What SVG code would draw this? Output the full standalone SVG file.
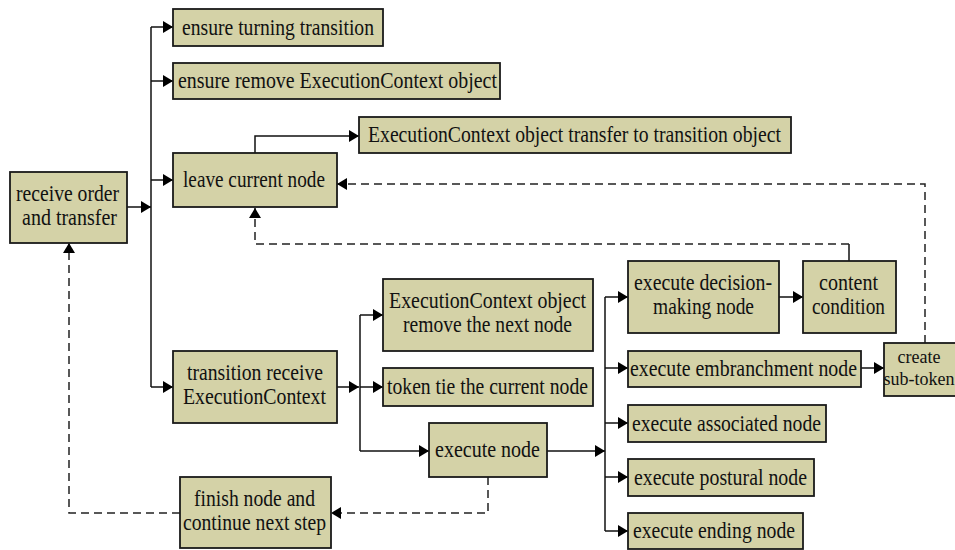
<svg xmlns="http://www.w3.org/2000/svg" width="955" height="550" viewBox="0 0 955 550">
<style>
.box{fill:#d4d2a7;stroke:#1a1a1a;stroke-width:1.8}
.t{font-family:"Liberation Serif","Times New Roman",serif;font-size:23px;fill:#111;text-anchor:middle}
.s{font-size:18px}
.ln{fill:none;stroke:#111;stroke-width:1.5}
.ds{fill:none;stroke:#222;stroke-width:1.5;stroke-dasharray:8,5}
</style>
<defs>
<marker id="ah" viewBox="0 0 10 12" refX="10" refY="6" markerWidth="10" markerHeight="12" markerUnits="userSpaceOnUse" orient="auto">
<path d="M0,0 L10,6 L0,12 Z" fill="#000"/>
</marker>
</defs>
<g id="connectors">
<path class="ln" d="M127,207 H151" marker-end="url(#ah)"/>
<path class="ln" d="M151,27 V387"/>
<path class="ln" d="M151,27 H173" marker-end="url(#ah)"/>
<path class="ln" d="M151,81 H173" marker-end="url(#ah)"/>
<path class="ln" d="M151,180 H173" marker-end="url(#ah)"/>
<path class="ln" d="M151,387 H173" marker-end="url(#ah)"/>
<path class="ln" d="M255,153 V136 H359" marker-end="url(#ah)"/>
<path class="ln" d="M337,387 H359" marker-end="url(#ah)"/>
<path class="ln" d="M360,315 V451"/>
<path class="ln" d="M360,315 H383" marker-end="url(#ah)"/>
<path class="ln" d="M360,387 H383" marker-end="url(#ah)"/>
<path class="ln" d="M360,451 H429" marker-end="url(#ah)"/>
<path class="ln" d="M547,451 H605" marker-end="url(#ah)"/>
<path class="ln" d="M605,297 V531"/>
<path class="ln" d="M605,297 H628" marker-end="url(#ah)"/>
<path class="ln" d="M605,368 H628" marker-end="url(#ah)"/>
<path class="ln" d="M605,423 H628" marker-end="url(#ah)"/>
<path class="ln" d="M605,477 H628" marker-end="url(#ah)"/>
<path class="ln" d="M605,531 H628" marker-end="url(#ah)"/>
<path class="ln" d="M779,297 H803" marker-end="url(#ah)"/>
<path class="ln" d="M861,368 H884" marker-end="url(#ah)"/>
<path class="ln" d="M849,261 V244"/>
<path class="ds" d="M849,244 H255 V208" marker-end="url(#ah)"/>
<path class="ds" d="M925,343 V184 H337" marker-end="url(#ah)"/>
<path class="ds" d="M488,477 V513 H331" marker-end="url(#ah)"/>
<path class="ds" d="M180,513 H69 V243" marker-end="url(#ah)"/>
</g>
<g id="n-ensure-turning">
<rect class="box" x="173" y="9" width="210" height="37"/>
<text class="t" x="278" y="34.5" textLength="192" lengthAdjust="spacingAndGlyphs">ensure turning transition</text>
</g>
<g id="n-ensure-remove">
<rect class="box" x="173" y="63" width="327" height="36"/>
<text class="t" x="337.5" y="88" textLength="319" lengthAdjust="spacingAndGlyphs">ensure remove ExecutionContext object</text>
</g>
<g id="n-transfer">
<rect class="box" x="359" y="117" width="432" height="36"/>
<text class="t" x="574.5" y="142" textLength="413" lengthAdjust="spacingAndGlyphs">ExecutionContext object transfer to transition object</text>
</g>
<g id="n-leave">
<rect class="box" x="173" y="153" width="164" height="54"/>
<text class="t" x="254" y="187" textLength="142" lengthAdjust="spacingAndGlyphs">leave current node</text>
</g>
<g id="n-receive">
<rect class="box" x="10" y="172" width="117" height="71"/>
<text class="t" x="67.5" y="200.5" textLength="103" lengthAdjust="spacingAndGlyphs">receive order</text>
<text class="t" x="69.5" y="224.5" textLength="95" lengthAdjust="spacingAndGlyphs">and transfer</text>
</g>
<g id="n-transition-receive">
<rect class="box" x="173" y="351" width="164" height="72"/>
<text class="t" x="255" y="380" textLength="136" lengthAdjust="spacingAndGlyphs">transition receive</text>
<text class="t" x="254.5" y="404" textLength="143" lengthAdjust="spacingAndGlyphs">ExecutionContext</text>
</g>
<g id="n-finish">
<rect class="box" x="180" y="477" width="151" height="71"/>
<text class="t" x="254.5" y="505.5" textLength="121" lengthAdjust="spacingAndGlyphs">finish node and</text>
<text class="t" x="254.5" y="529.5" textLength="143" lengthAdjust="spacingAndGlyphs">continue next step</text>
</g>
<g id="n-remove-next">
<rect class="box" x="383" y="279" width="210" height="72"/>
<text class="t" x="487.5" y="308" textLength="197" lengthAdjust="spacingAndGlyphs">ExecutionContext object</text>
<text class="t" x="487.5" y="332" textLength="169" lengthAdjust="spacingAndGlyphs">remove the next node</text>
</g>
<g id="n-token-tie">
<rect class="box" x="383" y="368" width="210" height="38"/>
<text class="t" x="487.5" y="394" textLength="201" lengthAdjust="spacingAndGlyphs">token tie the current node</text>
</g>
<g id="n-execute-node">
<rect class="box" x="429" y="423" width="118" height="54"/>
<text class="t" x="487.5" y="457" textLength="105" lengthAdjust="spacingAndGlyphs">execute node</text>
</g>
<g id="n-decision">
<rect class="box" x="628" y="261" width="151" height="72"/>
<text class="t" x="703" y="290" textLength="138" lengthAdjust="spacingAndGlyphs">execute decision-</text>
<text class="t" x="703.5" y="314" textLength="101" lengthAdjust="spacingAndGlyphs">making node</text>
</g>
<g id="n-content">
<rect class="box" x="803" y="261" width="93" height="72"/>
<text class="t" x="848.5" y="290" textLength="59" lengthAdjust="spacingAndGlyphs">content</text>
<text class="t" x="848.5" y="314" textLength="73" lengthAdjust="spacingAndGlyphs">condition</text>
</g>
<g id="n-embranchment">
<rect class="box" x="628" y="351" width="233" height="36"/>
<text class="t" x="743.5" y="376" textLength="227" lengthAdjust="spacingAndGlyphs">execute embranchment node</text>
</g>
<g id="n-create-subtoken">
<rect class="box" x="884" y="343" width="82" height="53"/>
<text class="t s" x="919" y="363">create</text>
<text class="t s" x="919" y="385">sub-token</text>
</g>
<g id="n-associated">
<rect class="box" x="628" y="405" width="198" height="37"/>
<text class="t" x="726.5" y="430.5" textLength="189" lengthAdjust="spacingAndGlyphs">execute associated node</text>
</g>
<g id="n-postural">
<rect class="box" x="628" y="459" width="186" height="37"/>
<text class="t" x="720.5" y="484.5" textLength="173" lengthAdjust="spacingAndGlyphs">execute postural node</text>
</g>
<g id="n-ending">
<rect class="box" x="628" y="513" width="175" height="36"/>
<text class="t" x="714" y="538" textLength="162" lengthAdjust="spacingAndGlyphs">execute ending node</text>
</g>
</svg>
